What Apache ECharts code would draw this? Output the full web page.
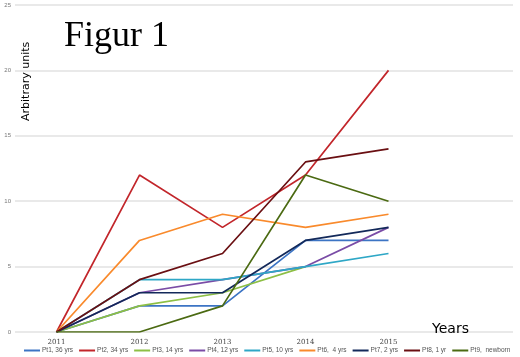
<!DOCTYPE html>
<html><head><meta charset="utf-8">
<script src="https://cdn.jsdelivr.net/npm/echarts@6/dist/echarts.min.js"></script>
<style>html,body{margin:0;padding:0;background:#fff}#c{width:520px;height:357px}</style>
</head><body><div id="c"></div>
<script>
const years = ['2011','2012','2013','2014','2015',''];
const yTicks = [0,5,10,15,20,25];
const seriesNames = ['Pt1, 36 yrs','Pt2, 34 yrs','Pt3, 14 yrs','Pt4, 12 yrs','Pt5, 10 yrs','Pt6,  4 yrs','Pt7, 2 yrs','Pt8, 1 yr','Pt9,  newborn'];
const pt1 = [0,2,2,7,7];
const pt2 = [0,12,8,12,20];
const pt3 = [0,2,3,5,null];
const pt4 = [0,3,4,5,8];
const pt5 = [0,4,4,5,6];
const pt6 = [0,7,9,8,9];
const pt7 = [0,3,3,7,8];
const pt8 = [0,4,6,13,14];
const pt9 = [0,0,2,12,10];
const allData = [pt1,pt2,pt3,pt4,pt5,pt6,pt7,pt8,pt9];
const colors = ['#3C74C4','#C2262B','#8DBF45','#7A4CA6','#2EA7C6','#F98A2C','#13295A','#6A0F12','#4B6A12'];

const chart = echarts.init(document.getElementById('c'), null, {renderer:'canvas'});
chart.setOption({
  animation:false,
  color: colors,
  grid:{left:15,right:7,top:5,bottom:25},
  title:[
    {text:'Figur 1',left:64,top:19,padding:0,textStyle:{fontFamily:'Liberation Serif',fontSize:36,fontWeight:'normal',color:'#000'}},
    {text:'Years',left:432,top:322,padding:0,textStyle:{fontFamily:'DejaVu Sans',fontSize:14,fontWeight:'normal',color:'#000'}}
  ],
  graphic:[{type:'text',rotation:Math.PI/2,x:21,y:121,style:{text:'Arbitrary units',font:'11px "DejaVu Sans"',fill:'#000'}}],
  legend:{bottom:3,left:24,width:500,padding:0,itemWidth:16,itemHeight:2,icon:'rect',itemGap:6,
    textStyle:{fontSize:6.5,fontFamily:'Liberation Sans',color:'#555',padding:[0,0,0,-3]},data:seriesNames},
  xAxis:{type:'category',data:years,boundaryGap:true,
    axisLine:{show:false},axisTick:{show:false},
    axisLabel:{fontSize:7,color:'#444',fontFamily:'DejaVu Serif',margin:7}},
  yAxis:{type:'value',min:0,max:25,interval:5,
    axisLabel:{fontSize:6,color:'#777',margin:4},
    splitLine:{lineStyle:{color:'#e2e2e2',width:1.5}},
    axisLine:{show:false},axisTick:{show:false}},
  series: allData.map((d,i)=>({name:seriesNames[i],type:'line',data:d,symbol:'none',
    lineStyle:{width:1.7,color:colors[i]},itemStyle:{color:colors[i]}}))
});
</script></body></html>
